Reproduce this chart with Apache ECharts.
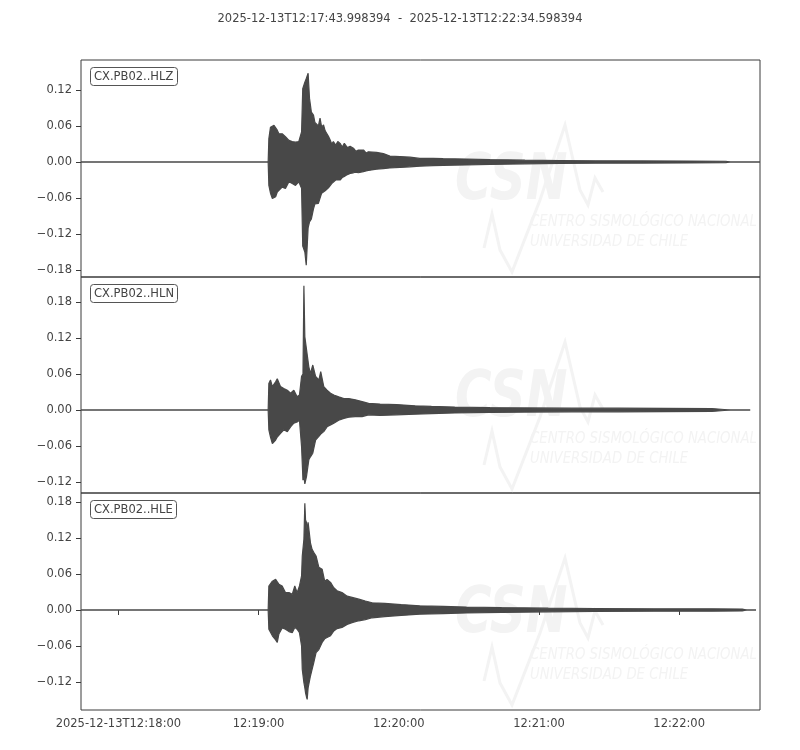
<!DOCTYPE html>
<html>
<head>
<meta charset="utf-8">
<title>CX.PB02</title>
<script src="https://cdn.jsdelivr.net/npm/echarts@6/dist/echarts.min.js"></script>
<style>
    html, body { margin: 0; padding: 0; background: #fff; }
    #chart { width: 800px; height: 750px; }
</style>
</head>
<body>
<div id="chart"></div>
<script>
// trace window
var traceTitle = '2025-12-13T12:17:43.998394  -  2025-12-13T12:22:34.598394';
var startClock = '12:17:43.998394';
var traceSpan = 290.6; // seconds
var channels = ['CX.PB02..HLZ', 'CX.PB02..HLN', 'CX.PB02..HLE'];

// x ticks (clock time) and their labels
var xTickClock = ['12:18:00', '12:19:00', '12:20:00', '12:21:00', '12:22:00'];
var xTickText = ['2025-12-13T12:18:00', '12:19:00', '12:20:00', '12:21:00', '12:22:00'];

// y ticks and limits per channel
var yTicksZ = [-0.18, -0.12, -0.06, 0, 0.06, 0.12];
var yTicksN = [-0.12, -0.06, 0, 0.06, 0.12, 0.18];
var yTicksE = [-0.12, -0.06, 0, 0.06, 0.12, 0.18];
var yRangeZ = [-0.1917, 0.17];
var yRangeN = [-0.1383, 0.2217];
var yRangeE = [-0.1667, 0.195];

// envelope of each trace: seconds after start, upper and lower amplitude
var timeZ = [0, 80.1, 80.4, 81.1, 81.9, 82.6, 83.3, 84.0, 84.7, 86.1, 87.5, 89.0, 90.4, 91.8, 93.2, 94.4, 94.9, 95.8, 96.4, 97.2,
    97.8, 98.6, 99.5, 100.1, 100.6, 101.6, 102.3, 103.0, 103.8, 104.5, 105.2, 105.9, 106.6, 107.3, 108.0, 109.0, 109.9, 110.9, 111.8, 112.7,
    114.0, 115.2, 116.6, 117.6, 118.7, 120.9, 122.0, 123.0, 126.5, 129.4, 132.2, 136.5, 140.8, 145.0, 150.7, 155, 165, 175, 190, 205,
    220, 240, 260, 276, 278, 290.6];
var upperZ = [0, 0, 0.039, 0.058, 0.060, 0.061, 0.058, 0.053, 0.047, 0.047, 0.042, 0.036, 0.034, 0.033, 0.034, 0.050, 0.122, 0.133, 0.139, 0.148,
    0.106, 0.083, 0.078, 0.066, 0.067, 0.060, 0.073, 0.058, 0.062, 0.052, 0.051, 0.043, 0.037, 0.030, 0.034, 0.028, 0.034, 0.031, 0.025, 0.031,
    0.024, 0.026, 0.023, 0.018, 0.020, 0.020, 0.015, 0.017, 0.016, 0.014, 0.010, 0.009, 0.008, 0.006, 0.006, 0.0055, 0.005, 0.004, 0.003, 0.0025,
    0.002, 0.0018, 0.0015, 0.0012, 0, 0];
var lowerZ = [0, 0, -0.039, -0.052, -0.061, -0.058, -0.058, -0.050, -0.047, -0.042, -0.044, -0.033, -0.036, -0.039, -0.033, -0.044, -0.140, -0.150, -0.172, -0.110,
    -0.100, -0.095, -0.078, -0.070, -0.072, -0.069, -0.066, -0.052, -0.052, -0.048, -0.049, -0.043, -0.041, -0.036, -0.033, -0.030, -0.030, -0.030, -0.026, -0.024,
    -0.021, -0.019, -0.018, -0.017, -0.018, -0.016, -0.015, -0.014, -0.012, -0.011, -0.010, -0.009, -0.008, -0.007, -0.006, -0.0055, -0.005, -0.004, -0.003, -0.0025,
    -0.002, -0.0018, -0.0015, -0.0012, 0, 0];

var timeN = [0, 80.1, 80.4, 81.1, 81.9, 83.3, 84.0, 85.4, 86.8, 88.3, 89.7, 91.1, 92.5, 93.5, 94.4, 95.0, 95.4, 95.8, 96.5, 97.5,
    98.2, 99.2, 100.4, 101.8, 102.6, 103.9, 105.3, 106.8, 108.2, 110.3, 112.5, 114.6, 117.4, 120.3, 123.1, 128, 135, 143, 150, 160,
    175, 190, 210, 230, 250, 270, 278, 286.4];
var upperN = [0, 0, 0.044, 0.050, 0.039, 0.047, 0.052, 0.039, 0.036, 0.033, 0.028, 0.033, 0.022, 0.025, 0.056, 0.060, 0.207, 0.122, 0.125, 0.072,
    0.061, 0.075, 0.056, 0.050, 0.064, 0.039, 0.033, 0.028, 0.025, 0.022, 0.019, 0.019, 0.017, 0.014, 0.011, 0.010, 0.009, 0.007, 0.006, 0.005,
    0.004, 0.0035, 0.003, 0.003, 0.0028, 0.0025, 0, 0];
var lowerN = [0, 0, -0.033, -0.045, -0.056, -0.050, -0.045, -0.039, -0.033, -0.036, -0.028, -0.022, -0.020, -0.017, -0.061, -0.117, -0.110, -0.123, -0.111, -0.083,
    -0.078, -0.072, -0.050, -0.044, -0.040, -0.036, -0.028, -0.025, -0.022, -0.017, -0.014, -0.012, -0.011, -0.011, -0.008, -0.009, -0.008, -0.007, -0.006, -0.005,
    -0.004, -0.0035, -0.003, -0.003, -0.0028, -0.0025, 0, 0];

var timeE = [0, 80.1, 80.4, 81.9, 83.3, 84.0, 84.7, 86.1, 87.5, 89.0, 90.4, 91.5, 92.5, 93.5, 94.4, 94.7, 95.4, 95.8, 96.1, 96.5,
    96.8, 97.2, 98.2, 98.9, 99.6, 100.6, 101.8, 103.2, 104.3, 105.3, 106.8, 108.2, 109.6, 111.7, 113.9, 116.0, 118.9, 121.7, 124.6, 130,
    137, 145, 155, 165, 180, 200, 220, 245, 270, 283, 285, 288.9];
var upperE = [0, 0, 0.040, 0.048, 0.051, 0.047, 0.043, 0.040, 0.029, 0.029, 0.026, 0.040, 0.029, 0.040, 0.057, 0.090, 0.118, 0.178, 0.150, 0.146,
    0.130, 0.146, 0.112, 0.101, 0.096, 0.090, 0.071, 0.068, 0.048, 0.051, 0.046, 0.037, 0.032, 0.029, 0.023, 0.021, 0.018, 0.015, 0.012, 0.011,
    0.009, 0.007, 0.006, 0.005, 0.004, 0.003, 0.0025, 0.002, 0.002, 0.0015, 0, 0];
var lowerE = [0, 0, -0.032, -0.043, -0.050, -0.054, -0.040, -0.030, -0.032, -0.036, -0.038, -0.029, -0.032, -0.038, -0.060, -0.099, -0.121, -0.130, -0.138, -0.145,
    -0.149, -0.130, -0.110, -0.099, -0.088, -0.071, -0.066, -0.054, -0.048, -0.046, -0.043, -0.035, -0.031, -0.029, -0.024, -0.021, -0.018, -0.016, -0.013, -0.011,
    -0.009, -0.007, -0.006, -0.005, -0.004, -0.003, -0.0025, -0.002, -0.002, -0.0015, 0, 0];

var FONT = 'DejaVu Sans';
var INK = '#484848';
var TXT = '#444';
var FS = 11.5;

function clockToSec(c) {
    var p = c.split(':');
    return (+p[0]) * 3600 + (+p[1]) * 60 + parseFloat(p[2]);
}
var t0 = clockToSec(startClock);
var xTickSec = xTickClock.map(function (c) { return clockToSec(c) - t0; });

var panels = [
    { time: timeZ, upper: upperZ, lower: lowerZ, ticks: yTicksZ, range: yRangeZ, top: 60, height: 217 },
    { time: timeN, upper: upperN, lower: lowerN, ticks: yTicksN, range: yRangeN, top: 277, height: 216 },
    { time: timeE, upper: upperE, lower: lowerE, ticks: yTicksE, range: yRangeE, top: 493, height: 217 }
];

function yLabel(v) {
    return (v < -1e-9 ? '\u2212' : '') + Math.abs(v).toFixed(2);
}
function xLabel(v) {
    for (var i = 0; i < xTickSec.length; i++) {
        if (Math.abs(xTickSec[i] - v) < 1e-6) return xTickText[i];
    }
    return '';
}

var grids = [], xAxes = [], yAxes = [], series = [], titles = [], graphics = [];

titles.push({
    text: traceTitle, left: 'center', top: 13, padding: 0,
    textStyle: { fontFamily: FONT, fontSize: FS, fontWeight: 'normal', color: TXT }
});

panels.forEach(function (p, k) {
    var last = k === panels.length - 1;
    grids.push({ left: 81, width: 679, top: p.top, height: p.height, show: true,
        borderColor: '#3a3a3a', borderWidth: 1, backgroundColor: 'transparent' });
    xAxes.push({
        type: 'value', gridIndex: k, min: 0, max: traceSpan,
        axisLine: { show: false },
        splitLine: { show: false },
        axisTick: { show: last, length: 5, customValues: xTickSec, lineStyle: { color: '#3a3a3a' } },
        axisLabel: { show: last, customValues: xTickSec, formatter: xLabel, margin: 8,
            fontFamily: FONT, fontSize: FS, color: TXT }
    });
    yAxes.push({
        type: 'value', gridIndex: k, min: p.range[0], max: p.range[1],
        axisLine: { show: false },
        splitLine: { show: false },
        axisTick: { show: true, length: 5, customValues: p.ticks, lineStyle: { color: '#3a3a3a' } },
        axisLabel: { customValues: p.ticks, formatter: yLabel, margin: 9,
            fontFamily: FONT, fontSize: FS, color: TXT }
    });
    // upper and lower envelope, each filled to zero, together give the trace band
    [p.upper, p.lower].forEach(function (env) {
        series.push({
            type: 'line', xAxisIndex: k, yAxisIndex: k,
            showSymbol: false, symbol: 'none', silent: true,
            lineStyle: { color: INK, width: 1.2 },
            areaStyle: { color: INK, opacity: 1, origin: 0 },
            data: p.time.map(function (t, i) { return [t, env[i]]; })
        });
    });
    titles.push({
        text: channels[k], left: 90, top: p.top + 7, padding: [4, 4, 3, 4],
        borderWidth: 1, borderColor: '#555', borderRadius: 3, backgroundColor: '#fff',
        textStyle: { fontFamily: FONT, fontSize: FS, fontWeight: 'normal', color: TXT }
    });

    // faint CSN watermark
    var dy = p.top - 60;
    var wm = '#f3f3f3';
    graphics.push({
        type: 'group', silent: true, z: 0,
        children: [
            { type: 'polyline', shape: { points: [[484, 248 + dy], [492, 214 + dy], [500, 250 + dy], [512, 272 + dy], [540, 200 + dy],
                [565, 125 + dy], [580, 190 + dy], [588, 205 + dy], [595, 178 + dy], [603, 192 + dy]] },
              style: { stroke: wm, lineWidth: 3, fill: null } },
            { type: 'text', x: 455, y: 150 + dy, scaleX: 0.78,
              style: { text: 'CSN', font: 'italic bold 64px ' + FONT, fill: wm } },
            { type: 'text', x: 530, y: 214 + dy, scaleX: 0.83,
              style: { text: 'CENTRO SISMOLÓGICO NACIONAL', font: 'italic 16px ' + FONT, fill: wm } },
            { type: 'text', x: 530, y: 234 + dy, scaleX: 0.83,
              style: { text: 'UNIVERSIDAD DE CHILE', font: 'italic 16px ' + FONT, fill: wm } }
        ]
    });
});

var myChart = echarts.init(document.getElementById('chart'));
myChart.setOption({
    backgroundColor: '#fff',
    animation: false,
    title: titles,
    grid: grids,
    xAxis: xAxes,
    yAxis: yAxes,
    series: series,
    graphic: graphics
});
</script>
</body>
</html>
